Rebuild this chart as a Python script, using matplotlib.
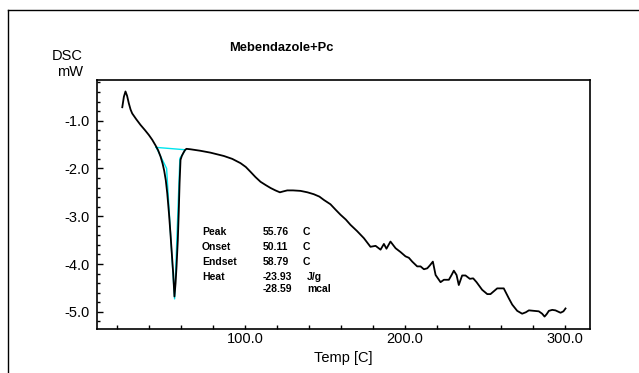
import matplotlib.pyplot as plt
from matplotlib.lines import Line2D
from matplotlib.ticker import MultipleLocator, FixedLocator

plt.rcParams['font.family'] = ['Liberation Sans', 'DejaVu Sans']

# DSC curve (Temp in C, DSC in mW)
temp = [23.3, 24.3, 25.3, 26.3, 27.4, 28.5, 29.5, 32.0, 34.7, 37.5, 39.9, 42.0, 44.1,
        45.7, 47.2, 48.5, 49.5, 50.5, 51.4, 52.5, 53.4, 54.3, 55.1, 55.9, 56.6, 57.2,
        58.0, 58.6, 59.1, 59.7, 60.5, 61.4, 62.4, 63.4, 66.0, 72.0, 78.4, 86.8, 92.0,
        97.2, 100.5, 103.4, 106.5, 109.7, 113.0, 116.0, 119.0, 121.8, 124.0, 126.4,
        130.0, 134.7, 139.0, 143.0, 146.5, 149.3, 153.4, 156.5, 159.7, 163.0, 165.9,
        170.0, 174.3, 178.4, 181.6, 184.7, 186.8, 188.4, 190.9, 194.1, 197.2, 200.3,
        202.4, 204.5, 207.6, 209.7, 211.8, 213.9, 215.5, 217.4, 219.1, 222.2, 224.3,
        227.4, 229.1, 230.5, 232.2, 233.6, 235.7, 237.8, 240.5, 242.6, 244.7, 248.2,
        251.4, 253.4, 257.6, 261.7, 264.9, 267.0, 270.1, 273.2, 275.5, 277.4, 280.5,
        283.6, 285.7, 287.2, 288.5, 289.9, 292.0, 294.0, 297.2, 299.0, 300.3]
dsc = [-0.72, -0.50, -0.39, -0.48, -0.64, -0.77, -0.85, -0.97, -1.09, -1.20, -1.30,
       -1.40, -1.52, -1.62, -1.75, -1.90, -2.05, -2.25, -2.52, -2.95, -3.36, -3.80,
       -4.19, -4.68, -4.40, -4.05, -3.50, -2.90, -2.31, -1.82, -1.74, -1.68, -1.62,
       -1.59, -1.60, -1.63, -1.67, -1.74, -1.80, -1.89, -1.97, -2.07, -2.18, -2.28,
       -2.35, -2.41, -2.46, -2.50, -2.48, -2.46, -2.46, -2.47, -2.50, -2.54, -2.59,
       -2.66, -2.75, -2.86, -2.97, -3.07, -3.18, -3.31, -3.46, -3.64, -3.62, -3.70,
       -3.58, -3.68, -3.53, -3.67, -3.75, -3.84, -3.87, -3.95, -4.05, -4.05, -4.11,
       -4.09, -4.03, -3.95, -4.23, -4.38, -4.33, -4.33, -4.23, -4.14, -4.23, -4.44,
       -4.24, -4.24, -4.31, -4.30, -4.38, -4.54, -4.63, -4.63, -4.51, -4.51, -4.72,
       -4.85, -4.98, -5.04, -5.01, -4.97, -4.98, -4.99, -5.04, -5.10, -5.05, -4.98,
       -4.96, -4.97, -5.02, -4.99, -4.93]

# baseline / tangent construction (cyan)
cyan_t = [44.5, 51.0, 54.5, 56.0, 59.3, 62.8, 44.5]
cyan_v = [-1.56, -2.00, -3.95, -4.73, -1.79, -1.61, -1.56]

result_names = ['Peak', 'Onset', 'Endset', 'Heat', '']
result_values = ['55.76', '50.11', '58.79', '-23.93', '-28.59']
result_units = ['C', 'C', 'C', 'J/g', 'mcal']

fig = plt.figure(figsize=(6.39, 3.73), dpi=100)
ax = fig.add_axes([97 / 639, 44 / 373, 493 / 639, 249 / 373])

ax.plot(cyan_t, cyan_v, color='#00e5ee', lw=1.0, zorder=2)
ax.plot(temp, dsc, color='black', lw=1.3, zorder=3)

ax.set_xlim(7.5, 315.6)
ax.set_ylim(-5.36, -0.15)
ax.xaxis.set_major_locator(FixedLocator([100, 200, 300]))
ax.xaxis.set_minor_locator(MultipleLocator(20))
ax.yaxis.set_major_locator(MultipleLocator(1.0))
ax.yaxis.set_minor_locator(MultipleLocator(0.2))
ax.xaxis.set_major_formatter(lambda v, p: f'{v:.1f}')
ax.yaxis.set_major_formatter(lambda v, p: f'{v:.1f}')
ax.tick_params(which='both', direction='in', labelsize=10.5, width=1)
ax.tick_params(axis='y', which='major', length=4, pad=5)
ax.tick_params(axis='y', which='minor', length=2.5)
ax.tick_params(axis='x', which='both', length=3, pad=2)
for s in ax.spines.values():
    s.set_linewidth(1.2)

ax.set_xlabel('Temp [C]', fontsize=10.5, labelpad=4)

fig.text(0.44, 1 - 48 / 373, 'Mebendazole+Pc', fontsize=9.3, fontweight='bold',
         ha='center', va='center')
fig.text(83 / 639, 1 - 56 / 373, 'DSC', fontsize=10.5, ha='right', va='center')
fig.text(83 / 639, 1 - 72 / 373, 'mW', fontsize=10.5, ha='right', va='center')

rows_y = [232.3, 247, 261.7, 276.7, 289.3]
for name, val, unit, yy in zip(result_names, result_values, result_units, rows_y):
    fy = 1 - yy / 373
    fig.text(202 / 639, fy, name, fontsize=7.5, fontweight='bold', va='center')
    fig.text(263 / 639, fy, val, fontsize=7.5, fontweight='bold', va='center')
    ux = 303 if unit == 'C' else 307
    fig.text(ux / 639, fy, unit, fontsize=7.5, fontweight='bold', va='center')

# outer frame lines
fig.add_artist(Line2D([8 / 639, 8 / 639], [0, 1 - 10 / 373], color='black', lw=1.0))
fig.add_artist(Line2D([8 / 639, 1], [1 - 10 / 373, 1 - 10 / 373], color='black', lw=1.0))

fig.savefig('out.png', dpi=100)
